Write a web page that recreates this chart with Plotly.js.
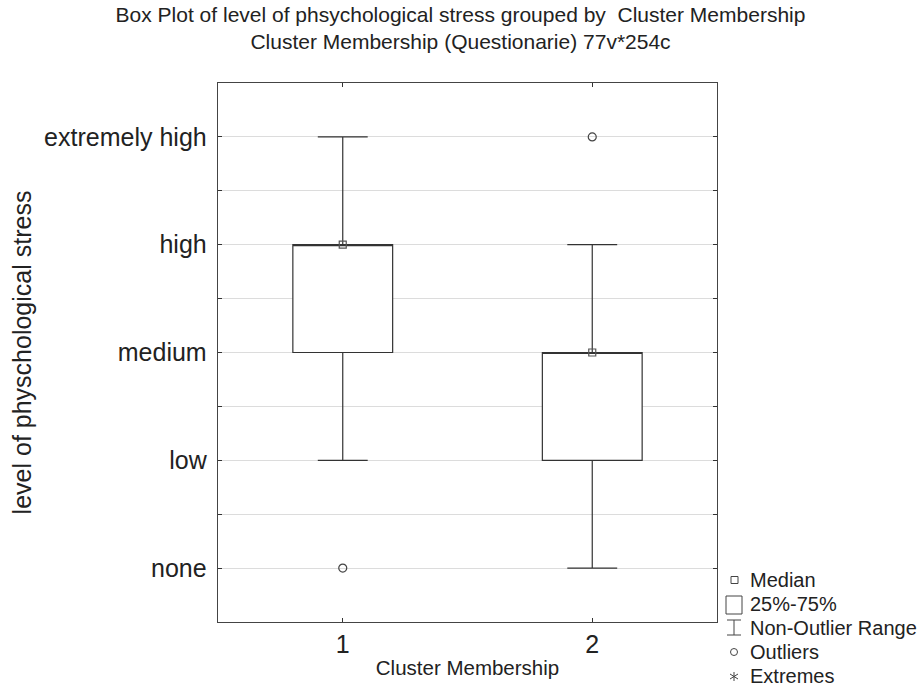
<!DOCTYPE html>
<html>
<head>
<meta charset="utf-8">
<script src="https://cdn.plot.ly/plotly-3.0.1.min.js"></script>
<style>html,body{margin:0;padding:0;background:#fff;}#chart{width:921px;height:693px;}</style>
</head>
<body>
<div id="chart"></div>
<script>
// Data
const groups = [1, 2];
const levelLabels = ['none', 'low', 'medium', 'high', 'extremely high'];
const levelValues = [0, 1, 2, 3, 4];
const q1 = [2, 1];
const medians = [3, 2];
const q3 = [3, 2];
const lowerWhisker = [1, 0];
const upperWhisker = [4, 3];
const outlierX = [1, 2];
const outlierY = [0, 4];
const legendLabels = ['Median', '25%-75%', 'Non-Outlier Range', 'Outliers', 'Extremes'];

const lineCol = '#333333';
const traces = [
  {
    type: 'box', x: groups, q1: q1, median: medians, q3: q3,
    lowerfence: lowerWhisker, upperfence: upperWhisker,
    boxpoints: false, width: 0.4, whiskerwidth: 0.5,
    line: {color: lineCol, width: 1.2}, fillcolor: 'rgba(255,255,255,1)',
    hoverinfo: 'skip', showlegend: false
  },
  {
    type: 'scatter', mode: 'markers', x: groups, y: medians,
    marker: {symbol: 'square-open', size: 7, color: '#555', line: {width: 1.2}},
    showlegend: false, hoverinfo: 'skip'
  },
  {
    type: 'scatter', mode: 'markers', x: outlierX, y: outlierY,
    marker: {symbol: 'circle-open', size: 8, color: '#444', line: {width: 1.2}},
    showlegend: false, hoverinfo: 'skip'
  }
];

// paper-coordinate helpers (plot area 218..717 x 83..622)
const L = 218, R = 717, T = 83, B = 622;
const px = v => (v - L) / (R - L);
const py = v => (B - v) / (B - T);

const legendY = [580, 604, 628, 652, 676];
const shapes = [];
const lc = {color: '#444', width: 1};
// median square
shapes.push({type: 'rect', xref: 'paper', yref: 'paper', x0: px(731), x1: px(738), y0: py(583.5), y1: py(576.5), line: lc});
// box
shapes.push({type: 'rect', xref: 'paper', yref: 'paper', x0: px(726), x1: px(742), y0: py(614), y1: py(596), line: lc});
// I-range
shapes.push({type: 'line', xref: 'paper', yref: 'paper', x0: px(727), x1: px(741), y0: py(620), y1: py(620), line: lc});
shapes.push({type: 'line', xref: 'paper', yref: 'paper', x0: px(727), x1: px(741), y0: py(635), y1: py(635), line: lc});
shapes.push({type: 'line', xref: 'paper', yref: 'paper', x0: px(734), x1: px(734), y0: py(620), y1: py(635), line: lc});
// circle
shapes.push({type: 'circle', xref: 'paper', yref: 'paper', x0: px(730.5), x1: px(737.5), y0: py(655.5), y1: py(648.5), line: lc});
// asterisk
shapes.push({type: 'line', xref: 'paper', yref: 'paper', x0: px(734), x1: px(734), y0: py(672), y1: py(681), line: lc});
shapes.push({type: 'line', xref: 'paper', yref: 'paper', x0: px(730), x1: px(738), y0: py(674), y1: py(679), line: lc});
shapes.push({type: 'line', xref: 'paper', yref: 'paper', x0: px(730), x1: px(738), y0: py(679), y1: py(674), line: lc});

const annotations = legendLabels.map((t, i) => ({
  xref: 'paper', yref: 'paper', x: px(748), y: py(legendY[i]),
  xanchor: 'left', yanchor: 'middle', text: t, showarrow: false,
  font: {family: 'Liberation Sans, Arial, sans-serif', size: 20, color: '#222'}
}));

const layout = {
  width: 921, height: 693,
  margin: {l: L, r: 921 - R, t: T, b: 693 - B},
  paper_bgcolor: '#fff', plot_bgcolor: '#fff',
  font: {family: 'Liberation Sans, Arial, sans-serif', color: '#222'},
  title: {
    text: 'Box Plot of level of phsychological stress grouped by  Cluster Membership<br>Cluster Membership (Questionarie) 77v*254c',
    x: 0.5, xref: 'container', xanchor: 'center',
    y: 1 - 22 / 693, yref: 'container', yanchor: 'top',
    font: {size: 21, color: '#222'}
  },
  xaxis: {
    range: [0.5, 2.5], tickmode: 'array', tickvals: groups, ticktext: groups.map(String),
    ticks: 'inside', ticklen: 4, tickcolor: '#333', showgrid: false, zeroline: false,
    showline: true, linecolor: '#444', linewidth: 1.3, mirror: 'ticks',
    tickfont: {size: 25, color: '#222'}, ticklabelstandoff: 0,
    title: {text: 'Cluster Membership', font: {size: 20.5, color: '#222'}, standoff: 3}
  },
  yaxis: {
    range: [-0.5, 4.5], tickmode: 'array', tickvals: levelValues, ticktext: levelLabels,
    ticks: 'inside', ticklen: 4, tickcolor: '#333', showgrid: true, gridcolor: '#dcdcdc', gridwidth: 1,
    zeroline: false, showline: true, linecolor: '#444', linewidth: 1.3, mirror: 'ticks',
    tickfont: {size: 25, color: '#222'}, ticklabelstandoff: 5,
    minor: {tickmode: 'array', tickvals: [0.5, 1.5, 2.5, 3.5], showgrid: true, gridcolor: '#dcdcdc', gridwidth: 1, ticks: 'inside', ticklen: 4, tickcolor: '#333'},
    title: {text: 'level of physchological stress', font: {size: 25, color: '#222'}, standoff: 5}
  },
  shapes: shapes,
  annotations: annotations,
  showlegend: false
};

Plotly.newPlot('chart', traces, layout, {displayModeBar: false, staticPlot: true});
</script>
</body>
</html>
